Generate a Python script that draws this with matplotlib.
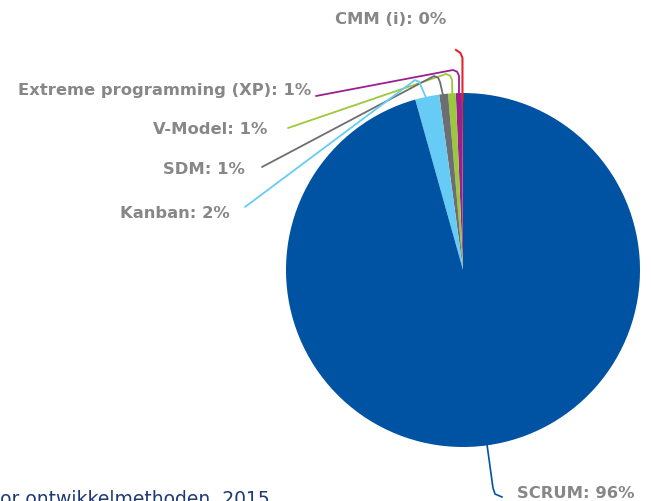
import numpy as np
import matplotlib.pyplot as plt

# data, ccw from the top of the pie
categories = ['CMM (i)', 'Extreme programming (XP)', 'V-Model', 'SDM', 'Kanban', 'SCRUM']
values = [0.1, 0.55, 0.7, 0.8, 2.2, 95.65]
colors = ['#e4262c', '#9c1f8f', '#9cc93b', '#6d6e71', '#66ccf5', '#0052a3']

W, H = 651, 501
CX, CY, R = 463, 270, 177  # pie centre / radius in pixels


def px(x, y):
    # pixel (from top-left) -> data coords
    return (x - CX) / R, (CY - y) / R


fig = plt.figure(figsize=(W / 100, H / 100), dpi=100)
ax = fig.add_axes([0, 0, 1, 1])

wedges, _ = ax.pie(values, colors=colors, startangle=90, counterclock=True,
                   radius=1, center=(0, 0), wedgeprops=dict(linewidth=0))

# pie() resets the limits, so set them afterwards
ax.set_xlim(px(0, 0)[0], px(W, 0)[0])
ax.set_ylim(px(0, H)[1], px(0, 0)[1])
ax.set_aspect('equal')
ax.axis('off')

labels = [f'{c}: {v:.0f}%' for c, v in zip(categories, values)]
lab_kw = dict(fontsize=11.8, fontweight='bold', color='#878787')

# label position (px), line end near label (px), elbow (px) for each small slice
layout = {
    'Extreme programming (XP)': ((311, 90), (316, 96), (459, 70)),
    'V-Model': ((267, 130), (288, 128), (452, 74)),
    'SDM': ((245, 170), (262, 167), (440, 76)),
    'Kanban': ((230, 213), (245, 207), (421, 80)),
}

for w, cat, lab in zip(wedges, categories, labels):
    mid = np.deg2rad((w.theta1 + w.theta2) / 2)
    ax_, ay_ = 0.96 * np.cos(mid), 0.96 * np.sin(mid)
    col = w.get_facecolor()
    if cat in layout:
        (tx, ty), (lx, ly), (ex, ey) = layout[cat]
        ax.text(*px(tx, ty), lab, ha='right', va='center', **lab_kw)
        exd, eyd = px(ex, ey)
        c = 6 / R
        xs = [ax_, exd, exd - c * 0.3, exd - c, px(lx, ly)[0]]
        ys = [ay_, eyd - c, eyd - c * 0.3, eyd, px(lx, ly)[1]]
        ax.plot(xs, ys, color=col, lw=1.3, solid_capstyle='round')
    elif cat == 'CMM (i)':
        ax.text(*px(391, 20), lab, ha='center', va='center', **lab_kw)
        xs = [ax_, ax_, ax_ - 2 / R, px(456, 50)[0]]
        ys = [ay_, px(0, 58)[1], px(0, 53)[1], px(0, 50)[1]]
        ax.plot(xs, ys, color=col, lw=1.5)
    else:
        ax.text(*px(517, 494), lab, ha='left', va='center', **lab_kw)
        ex, ey = px(493, 488)
        xs = [ax_, ex, ex + 2 / R, px(502, 497)[0]]
        ys = [ay_, ey, px(0, 494)[1], px(0, 497)[1]]
        ax.plot(xs, ys, color=col, lw=1.2)

ax.text(*px(270, 505), 'Bron: Onderzoek naar voorkeur voor ontwikkelmethoden, 2015',
        ha='right', va='baseline', fontsize=13.5, color='#1f3a73')

fig.savefig('out.png', dpi=100)
